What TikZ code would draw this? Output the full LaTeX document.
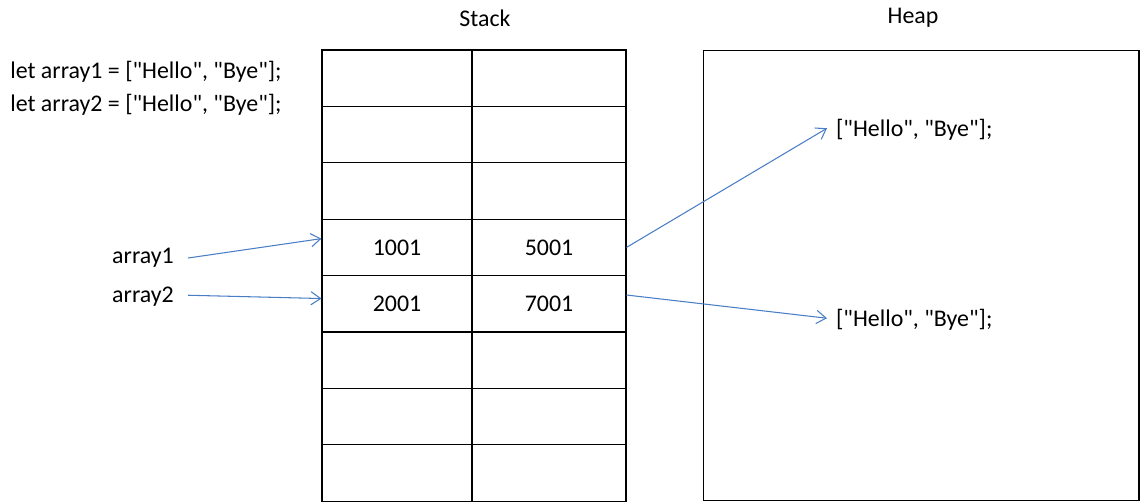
\documentclass[tikz,border=0pt]{standalone}
\usepackage{fontspec}
\setmainfont{Carlito}[Ligatures=TeXOff]
\usepackage{xcolor}
\usetikzlibrary{arrows.meta}
\definecolor{ptrblue}{RGB}{74,126,196}

\begin{document}
\begin{tikzpicture}[x=0.02cm, y=-0.02cm,
  font=\fontsize{13.6}{16}\selectfont,
  cell/.style={draw, line width=0.6pt, minimum height=1.128cm, inner sep=0pt},
  ptr/.style={ptrblue, line width=0.6pt, -{Straight Barb[length=5.5pt,width=7.5pt]}}]
\useasboundingbox (0,0) rectangle (1142,503);

\node (stacklabel) at (485, 18) {Stack};
\node (heaplabel) at (913, 18) {Heap};

\node[anchor=west, inner sep=0pt] (code1) at (10, 72) {let array1 = ["Hello", "Bye"];};
\node[anchor=west, inner sep=0pt] (code2) at (10, 105) {let array2 = ["Hello", "Bye"];};

% stack cells
\foreach \i in {1,...,8} {
  \node[cell, minimum width=3cm] (cellL\i) at (397, 50+\i*56.4-28.2) {};
  \node[cell, minimum width=3.08cm] (cellR\i) at (549, 50+\i*56.4-28.2) {};
}
\node at (cellL4) {1001};
\node at (cellR4) {5001};
\node at (cellL5) {2001};
\node at (cellR5) {7001};

% heap
\node[draw, line width=0.6pt, minimum width=8.72cm, minimum height=9.02cm] (heap) at (921, 275.5) {};
\node[anchor=west, inner sep=5pt] (arr1) at (827, 130) {["Hello", "Bye"];};
\node[anchor=west, inner sep=5pt] (arr2) at (827, 320) {["Hello", "Bye"];};

\node[inner sep=8pt] (array1) at (143, 258) {array1};
\node[inner sep=8pt] (array2) at (143, 297) {array2};

\draw[ptr] (array1.east) -- ([yshift=5pt]cellL4.west);
\draw[ptr] ([yshift=1pt]array2.east) -- ([yshift=3pt]cellL5.west);
\draw[ptr] (cellR4.east) -- ([yshift=1pt]arr1.west);
\draw[ptr] ([yshift=5pt]cellR5.east) -- ([yshift=1pt]arr2.west);

\end{tikzpicture}
\end{document}
